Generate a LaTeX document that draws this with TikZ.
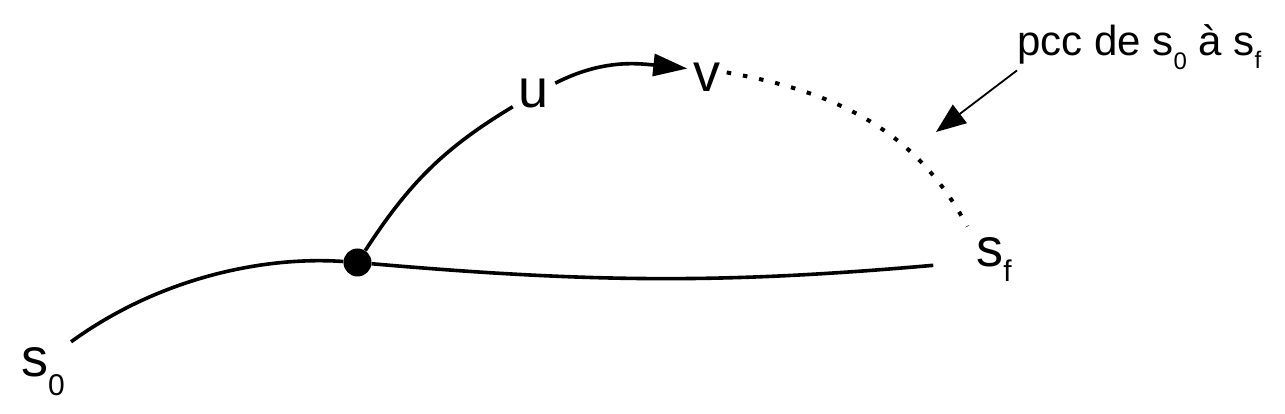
\documentclass[tikz,border=0pt]{standalone}
\usepackage{fontspec}
\setmainfont{Liberation Sans}
\usetikzlibrary{arrows.meta,positioning,calc}

\newcommand{\lowidx}[3]{\raisebox{-#1pt}{\fontsize{#2}{#2}\selectfont #3}}

\begin{document}
\begin{tikzpicture}[x=1pt,y=1pt,
    vtx/.style={inner sep=6pt,anchor=base,font=\fontsize{54}{54}\selectfont},
    junct/.style={circle,fill,inner sep=0pt,minimum size=28pt},
    edge/.style={line width=3.6pt}]
    \useasboundingbox (0,0) rectangle (1285,414);

    % Vertices
    \node[vtx] (s0) at (43,37) {s\lowidx{19}{30}{0}};
    \node[vtx] (sf) at (994,147) {s\lowidx{15}{30}{f}};
    \node[vtx] (u) at (534,306) {u};
    \node[vtx] (v) at (707,322) {v};
    \node[junct] (j) at (357.5,151.5) {};

    % Paths
    \draw[edge] (s0.north east) to[out=36,in=176,in looseness=0.7] (j);
    \draw[edge,shorten >=37pt] (j) to[out=-5,in=185] (sf);
    \draw[edge] (j) to[out=57,in=211] (u);
    \draw[edge,-{Triangle[length=34pt,width=22pt]}] (u) to[out=27,in=174] (v.155);
    \draw[line width=4pt,dash pattern=on 4.5pt off 12pt,shorten >=6pt] (v.15) to[out=-10,in=118] (sf.north west);

    % Annotation
    \node[inner sep=0pt,anchor=base west,font=\fontsize{42}{42}\selectfont] (pcc) at (1017,358)
        {pcc de s\lowidx{14}{24}{0} à s\lowidx{13}{24}{f}};
    \coordinate (tgt) at (936,282);
    \draw[line width=1.8pt,-{Triangle[length=30pt,width=23pt]}] (pcc.south west) -- (tgt);
\end{tikzpicture}
\end{document}
